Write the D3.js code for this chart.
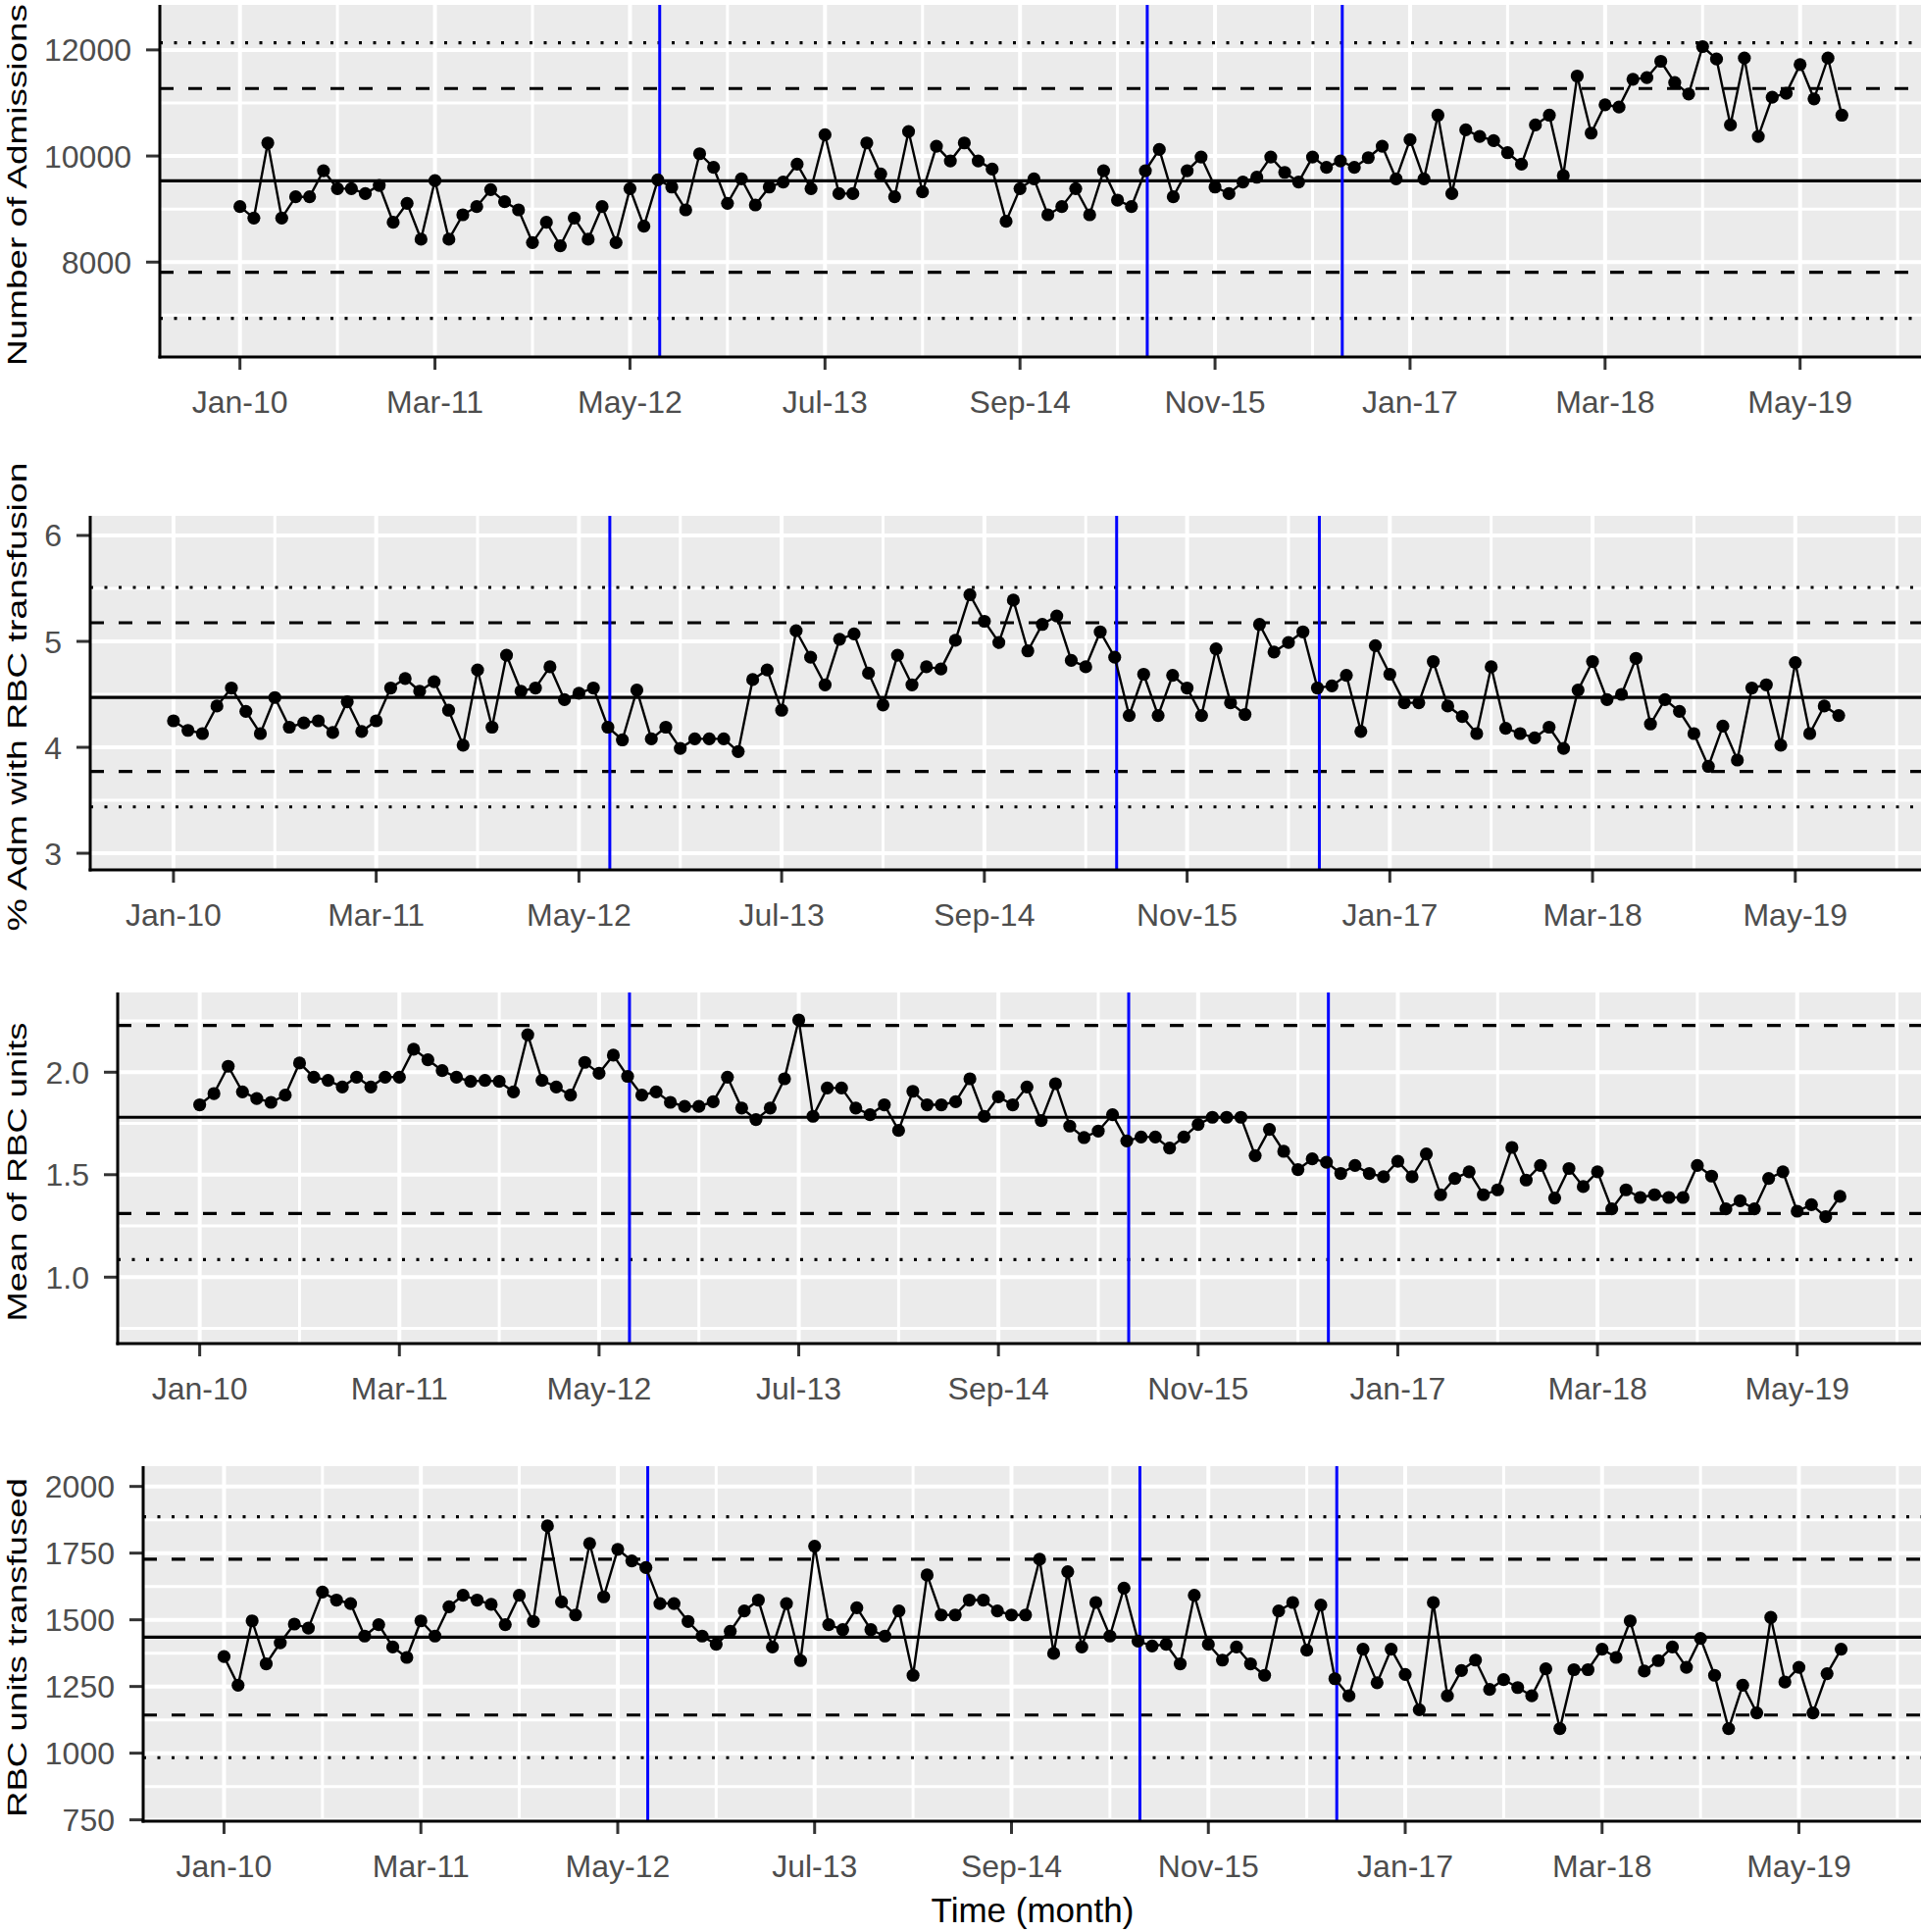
<!DOCTYPE html>
<html>
<head>
<meta charset="utf-8">
<script src="https://cdnjs.cloudflare.com/ajax/libs/d3/7.8.5/d3.min.js"></script>
<style>
  body { margin: 0; background: #fff; }
  svg { display: block; }
</style>
</head>
<body>
<div id="chart"></div>
<script>
// monthly observations, Jan-10 .. Aug-19
const months = d3.timeMonth.range(new Date(2010, 0, 1), new Date(2019, 8, 1));
const xTickLabels = ['Jan-10', 'Mar-11', 'May-12', 'Jul-13', 'Sep-14', 'Nov-15', 'Jan-17', 'Mar-18', 'May-19'];
const interventions = ['2012-07-05', '2015-06-05', '2016-08-05'];

const admissions = [
  9046, 8831, 10246, 8831, 9231, 9231, 9723, 9385, 9385, 9292, 9446, 8751,
  9108, 8431, 9538, 8431, 8892, 9046, 9366, 9138, 8985, 8369, 8751, 8308,
  8831, 8431, 9046, 8369, 9385, 8677, 9551, 9415, 8985, 10043, 9785, 9108,
  9569, 9077, 9415, 9508, 9846, 9385, 10400, 9292, 9292, 10246, 9662, 9231,
  10462, 9323, 10185, 9908, 10246, 9908, 9754, 8769, 9385, 9569, 8892, 9046,
  9385, 8892, 9723, 9169, 9046, 9723, 10123, 9231, 9723, 9981, 9415, 9292,
  9508, 9600, 9981, 9692, 9508, 9981, 9785, 9908, 9785, 9969, 10185, 9569,
  10308, 9569, 10769, 9292, 10492, 10369, 10289, 10062, 9846, 10585, 10769, 9631,
  11508, 10431, 10966, 10923, 11446, 11477, 11785, 11385, 11169, 12062, 11828, 10585,
  11846, 10369, 11108, 11182, 11723, 11077, 11846, 10769
];
const pctTransfused = [
  4.25, 4.16, 4.13, 4.39, 4.56, 4.34, 4.13, 4.47, 4.19, 4.23, 4.25, 4.14,
  4.43, 4.15, 4.25, 4.56, 4.65, 4.53, 4.62, 4.35, 4.02, 4.73, 4.19, 4.87,
  4.53, 4.56, 4.76, 4.45, 4.51, 4.56, 4.19, 4.07, 4.54, 4.08, 4.19, 3.99,
  4.08, 4.08, 4.08, 3.96, 4.64, 4.73, 4.35, 5.10, 4.85, 4.59, 5.02, 5.07,
  4.70, 4.40, 4.87, 4.59, 4.76, 4.74, 5.01, 5.44, 5.19, 4.99, 5.39, 4.91,
  5.16, 5.24, 4.82, 4.76, 5.09, 4.85, 4.30, 4.69, 4.30, 4.68, 4.56, 4.30,
  4.93, 4.42, 4.31, 5.16, 4.90, 4.99, 5.09, 4.56, 4.58, 4.68, 4.15, 4.96,
  4.69, 4.42, 4.42, 4.81, 4.39, 4.29, 4.13, 4.76, 4.18, 4.13, 4.09, 4.19,
  3.99, 4.54, 4.81, 4.45, 4.50, 4.84, 4.22, 4.45, 4.34, 4.13, 3.82, 4.20,
  3.88, 4.56, 4.59, 4.02, 4.80, 4.13, 4.39, 4.30
];
const meanUnits = [
  1.841, 1.896, 2.029, 1.904, 1.872, 1.853, 1.888, 2.045, 1.976, 1.960, 1.928, 1.976,
  1.928, 1.976, 1.976, 2.112, 2.061, 2.008, 1.976, 1.955, 1.960, 1.955, 1.904, 2.183,
  1.960, 1.928, 1.888, 2.048, 1.995, 2.083, 1.980, 1.888, 1.904, 1.853, 1.833, 1.833,
  1.856, 1.976, 1.825, 1.769, 1.825, 1.968, 2.255, 1.785, 1.923, 1.923, 1.825, 1.793,
  1.841, 1.716, 1.907, 1.841, 1.841, 1.856, 1.968, 1.785, 1.880, 1.841, 1.928, 1.764,
  1.944, 1.737, 1.681, 1.713, 1.793, 1.665, 1.684, 1.684, 1.630, 1.684, 1.745, 1.780,
  1.780, 1.780, 1.593, 1.721, 1.614, 1.525, 1.577, 1.561, 1.506, 1.545, 1.506, 1.490,
  1.565, 1.490, 1.601, 1.402, 1.482, 1.514, 1.402, 1.426, 1.633, 1.474, 1.545, 1.386,
  1.530, 1.442, 1.514, 1.333, 1.426, 1.389, 1.402, 1.389, 1.389, 1.545, 1.493, 1.333,
  1.373, 1.333, 1.482, 1.514, 1.322, 1.354, 1.295, 1.394
];
const unitsTransfused = [
  1362, 1255, 1496, 1335, 1414, 1484, 1469, 1604, 1574, 1561, 1439, 1482,
  1398, 1359, 1496, 1439, 1549, 1592, 1574, 1558, 1482, 1592, 1494, 1852,
  1567, 1518, 1786, 1586, 1764, 1721, 1696, 1561, 1561, 1494, 1439, 1408,
  1457, 1533, 1574, 1398, 1561, 1347, 1776, 1482, 1463, 1545, 1463, 1439,
  1533, 1292, 1668, 1518, 1518, 1574, 1574, 1533, 1518, 1518, 1727, 1374,
  1680, 1398, 1565, 1439, 1619, 1420, 1402, 1408, 1335, 1592, 1408, 1349,
  1398, 1335, 1292, 1533, 1565, 1386, 1555, 1279, 1215, 1390, 1264, 1390,
  1295, 1163, 1565, 1215, 1310, 1349, 1239, 1276, 1246, 1215, 1316, 1092,
  1313, 1313, 1390, 1359, 1496, 1308, 1347, 1398, 1322, 1430, 1292, 1092,
  1255, 1151, 1509, 1267, 1322, 1151, 1298, 1390
];

// control limits: [-3 sd, -2 sd, mean, +2 sd, +3 sd]
const admissionsLimits = [6940, 7810, 9533, 11272, 12135];
const pctLimits = [3.438, 3.772, 4.472, 5.176, 5.509];
const meanUnitsLimits = [1.086, 1.311, 1.780, 2.228, 2.474];
const unitsLimits = [983, 1143, 1435, 1727, 1886];

const admissionsTicks = [8000, 10000, 12000];
const pctTicks = [3, 4, 5, 6];
const meanUnitsTicks = [1.0, 1.5, 2.0];
const unitsTicks = [750, 1000, 1250, 1500, 1750, 2000];

const W = 1959, H = 1970;
const panels = [
  { title: 'Number of Admissions', values: admissions, limits: admissionsLimits, ticks: admissionsTicks,
    fmt: d3.format('d'), domain: [6212, 12848], left: 163, top: 5, bottom: 364, titleLen: 369 },
  { title: '% Adm with RBC transfusion', values: pctTransfused, limits: pctLimits, ticks: pctTicks,
    fmt: d3.format('d'), domain: [2.843, 6.185], left: 92, top: 526, bottom: 887, titleLen: 478 },
  { title: 'Mean of RBC units', values: meanUnits, limits: meanUnitsLimits, ticks: meanUnitsTicks,
    fmt: d3.format('.1f'), domain: [0.676, 2.389], left: 120, top: 1012, bottom: 1370, titleLen: 305 },
  { title: 'RBC units transfused', values: unitsTransfused, limits: unitsLimits, ticks: unitsTicks,
    fmt: d3.format('d'), domain: [745, 2076], left: 146, top: 1495, bottom: 1857, titleLen: 346 },
];

const start = months[0];
const monthIndex = d => (d.getFullYear() - start.getFullYear()) * 12 + d.getMonth() - start.getMonth()
  + (d.getDate() - 1) / 30;
const parseTick = d3.timeParse('%b-%y');
const parseDay = d3.timeParse('%Y-%m-%d');
const tickMonths = xTickLabels.map(l => monthIndex(parseTick(l)));
const vlineMonths = interventions.map(s => monthIndex(parseDay(s)));
const limitDash = ['3,11.5', '14,15', null, '14,15', '3,11.5'];
const font = "'Liberation Sans', Arial, sans-serif";

const svg = d3.select('#chart').append('svg').attr('width', W).attr('height', H);

panels.forEach((p, i) => {
  const right = 1960;
  const x = d3.scaleLinear().domain([-5.75, 120.75]).range([p.left, right]);
  const y = d3.scaleLinear().domain(p.domain).range([p.bottom, p.top]);
  const clipId = `clip-${i}`;

  svg.append('clipPath').attr('id', clipId).append('rect')
    .attr('x', p.left).attr('y', p.top).attr('width', right - p.left).attr('height', p.bottom - p.top);

  const g = svg.append('g').attr('clip-path', `url(#${clipId})`);
  g.append('rect')
    .attr('x', p.left).attr('y', p.top).attr('width', right - p.left).attr('height', p.bottom - p.top)
    .attr('fill', '#EBEBEB');

  // minor grid: midway between major breaks
  const xStep = tickMonths[1] - tickMonths[0];
  const xMinor = [tickMonths[0] - xStep / 2, ...tickMonths.map(m => m + xStep / 2)];
  const yStep = p.ticks[1] - p.ticks[0];
  const yMinor = [p.ticks[0] - yStep / 2, ...p.ticks.map(v => v + yStep / 2)];

  g.selectAll('line.xminor').data(xMinor).join('line')
    .attr('x1', d => x(d)).attr('x2', d => x(d)).attr('y1', p.top).attr('y2', p.bottom)
    .attr('stroke', '#fff').attr('stroke-width', 3);
  g.selectAll('line.yminor').data(yMinor).join('line')
    .attr('x1', p.left).attr('x2', right).attr('y1', d => y(d)).attr('y2', d => y(d))
    .attr('stroke', '#fff').attr('stroke-width', 3);
  g.selectAll('line.xmajor').data(tickMonths).join('line')
    .attr('x1', d => x(d)).attr('x2', d => x(d)).attr('y1', p.top).attr('y2', p.bottom)
    .attr('stroke', '#fff').attr('stroke-width', 4);
  g.selectAll('line.ymajor').data(p.ticks).join('line')
    .attr('x1', p.left).attr('x2', right).attr('y1', d => y(d)).attr('y2', d => y(d))
    .attr('stroke', '#fff').attr('stroke-width', 4);

  // control limits
  g.selectAll('line.limit').data(p.limits).join('line')
    .attr('x1', p.left).attr('x2', right).attr('y1', d => y(d)).attr('y2', d => y(d))
    .attr('stroke', '#000').attr('stroke-width', 3.2)
    .attr('stroke-dasharray', (d, j) => limitDash[j]);

  // interventions
  g.selectAll('line.vline').data(vlineMonths).join('line')
    .attr('x1', d => x(d)).attr('x2', d => x(d)).attr('y1', p.top).attr('y2', p.bottom)
    .attr('stroke', '#0000FF').attr('stroke-width', 3);

  const line = d3.line().x((d, j) => x(j)).y(d => y(d));
  g.append('path').datum(p.values)
    .attr('d', line).attr('fill', 'none').attr('stroke', '#000').attr('stroke-width', 2.4);
  g.selectAll('circle').data(p.values).join('circle')
    .attr('cx', (d, j) => x(j)).attr('cy', d => y(d)).attr('r', 6.6).attr('fill', '#000');

  // axes
  const ax = svg.append('g');
  ax.selectAll('line.xt').data(tickMonths).join('line')
    .attr('x1', d => x(d)).attr('x2', d => x(d)).attr('y1', p.bottom).attr('y2', p.bottom + 13)
    .attr('stroke', '#333').attr('stroke-width', 3);
  ax.selectAll('line.yt').data(p.ticks).join('line')
    .attr('x1', p.left - 14).attr('x2', p.left).attr('y1', d => y(d)).attr('y2', d => y(d))
    .attr('stroke', '#333').attr('stroke-width', 3);
  ax.append('line').attr('x1', p.left).attr('x2', p.left).attr('y1', p.top).attr('y2', p.bottom + 1.5)
    .attr('stroke', '#000').attr('stroke-width', 3);
  ax.append('line').attr('x1', p.left - 1.5).attr('x2', right).attr('y1', p.bottom).attr('y2', p.bottom)
    .attr('stroke', '#000').attr('stroke-width', 3);

  ax.selectAll('text.xl').data(xTickLabels).join('text')
    .attr('x', (d, j) => x(tickMonths[j])).attr('y', p.bottom + 57)
    .attr('text-anchor', 'middle').attr('font-family', font).attr('font-size', 32)
    .attr('fill', '#4D4D4D').text(d => d);
  ax.selectAll('text.yl').data(p.ticks).join('text')
    .attr('x', p.left - 29).attr('y', d => y(d) + 11.5)
    .attr('text-anchor', 'end').attr('font-family', font).attr('font-size', 32)
    .attr('fill', '#4D4D4D').text(d => p.fmt(d));

  svg.append('text')
    .attr('transform', `translate(27,${(p.top + p.bottom) / 2 + 4}) rotate(-90)`)
    .attr('text-anchor', 'middle').attr('font-family', font).attr('font-size', 27)
    .attr('textLength', p.titleLen).attr('lengthAdjust', 'spacingAndGlyphs')
    .attr('fill', '#000').text(p.title);
});

svg.append('text')
  .attr('x', (panels[3].left + 1960) / 2).attr('y', 1960)
  .attr('text-anchor', 'middle').attr('font-family', font).attr('font-size', 35)
  .attr('fill', '#000').text('Time (month)');
</script>
</body>
</html>
